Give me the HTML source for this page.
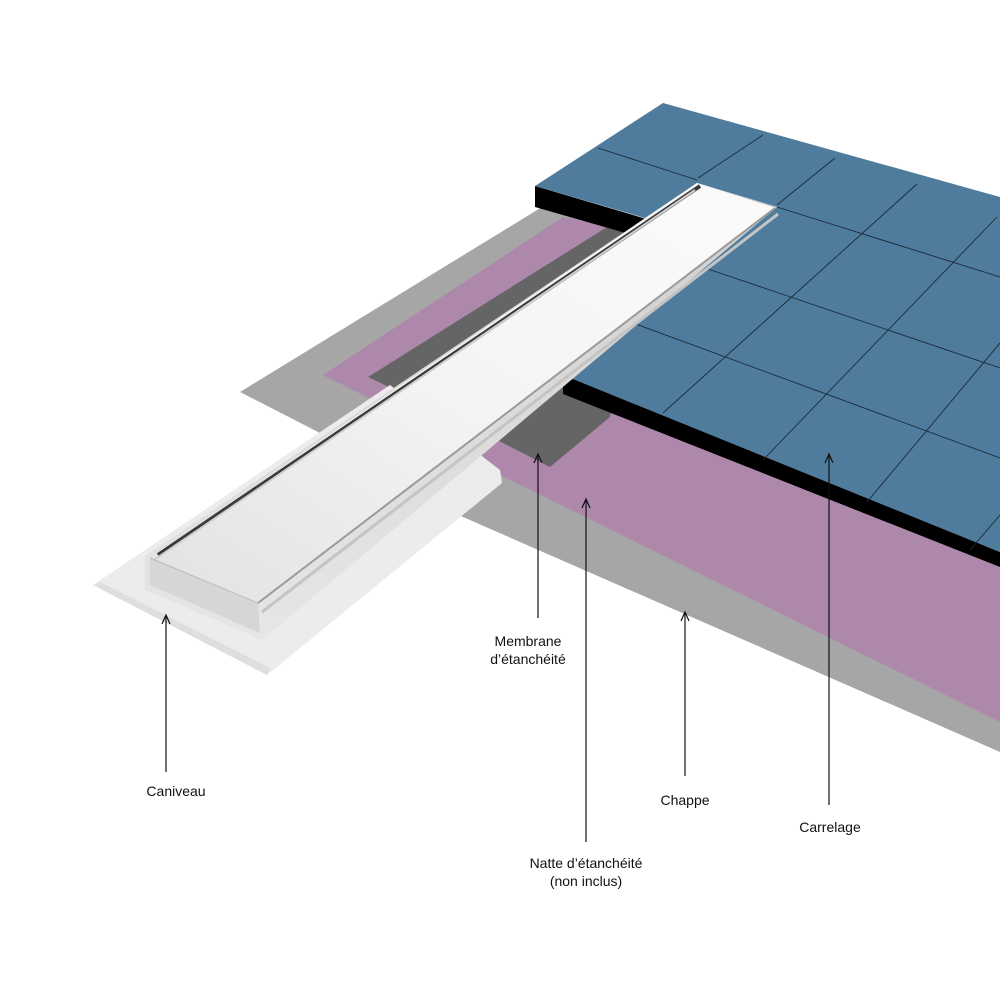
<!DOCTYPE html>
<html><head><meta charset="utf-8"><style>
html,body{margin:0;padding:0;background:#fff;}
svg{display:block;}
text{font-family:"Liberation Sans",Arial,sans-serif;font-size:14px;fill:#111;text-anchor:middle;}
</style></head><body>
<svg width="1000" height="1000" viewBox="0 0 1000 1000" xmlns="http://www.w3.org/2000/svg">
<defs>
<linearGradient id="cov" x1="0" y1="1" x2="1" y2="0">
<stop offset="0" stop-color="#e2e2e2"/><stop offset="0.5" stop-color="#f4f4f4"/><stop offset="1" stop-color="#fbfbfb"/>
</linearGradient>
<linearGradient id="body" x1="0" y1="0" x2="0" y2="1">
<stop offset="0" stop-color="#cfcfcf"/><stop offset="1" stop-color="#e6e6e6"/>
</linearGradient>
</defs>
<!-- chape gray -->
<polygon points="240,392 542,207 650,230 1000,560 1000,752 463,517 318,432" fill="#a6a6a6"/>
<!-- pink natte -->
<polygon points="323,375 563,217 650,235 1000,566 1000,722 470,460 377,402" fill="#ad88ab"/>
<!-- membrane -->
<polygon points="368,377 607,227 650,235 610,417 550,467 503,443 393,389" fill="#666566"/>
<!-- tile black edges -->
<polygon points="535,186 650,220 650,240 535,207" fill="#000"/>
<polygon points="563,375 1000,552 1000,567 563,394" fill="#000"/>
<!-- tile top -->
<polygon points="535,186 663,103 1000,197 1000,552 563,375 777,207 697,183 645,218" fill="#4f7c9c"/>
<g stroke="#1a2a3a" stroke-width="0.9" fill="none">
<line x1="598" y1="148" x2="697" y2="180"/>
<line x1="777" y1="207" x2="1000" y2="277"/>
<line x1="705" y1="268" x2="1000" y2="368"/>
<line x1="633" y1="323" x2="1000" y2="458"/>
<line x1="763" y1="135" x2="698" y2="178"/>
<line x1="835" y1="158" x2="777" y2="205"/>
<line x1="917" y1="184" x2="663" y2="413"/>
<line x1="997" y1="217" x2="763" y2="460"/>
<line x1="1000" y1="343" x2="867" y2="502"/>
<line x1="1000" y1="515" x2="970" y2="550"/>
</g>
<!-- drain flange -->
<polygon points="93,585 390,385 500,470 502,483 267,675" fill="#ececec"/>
<polygon points="93,585 267,675 270,668 100,582" fill="#dedede"/>
<!-- drain body -->
<polygon points="145,556 697,183 777,207 262,640 145,590" fill="url(#body)"/>
<!-- cover top -->
<polygon points="152,556 697,183 775,208 258,603" fill="url(#cov)"/>
<line x1="158" y1="555" x2="700" y2="186" stroke="#3a3a3a" stroke-width="4"/>
<line x1="154" y1="560" x2="695" y2="190" stroke="#d0d0d0" stroke-width="2"/>
<line x1="258" y1="603" x2="775" y2="208" stroke="#9a9a9a" stroke-width="2"/>
<line x1="262" y1="612" x2="778" y2="214" stroke="#c4c4c4" stroke-width="3"/>
<!-- cover front face -->
<polygon points="150,558 258,603 260,633 150,585" fill="#d6d6d6"/>
<line x1="150" y1="558" x2="258" y2="603" stroke="#bbb" stroke-width="1"/>
<!-- labels -->
<g stroke="#111" stroke-width="1.2" fill="none">
<line x1="166" y1="616" x2="166" y2="772"/>
<path d="M162,624 L166,615 L170,624"/>
<line x1="538" y1="455" x2="538" y2="618"/>
<path d="M534,463 L538,454 L542,463"/>
<line x1="586" y1="500" x2="586" y2="842"/>
<path d="M582,508 L586,499 L590,508"/>
<line x1="685" y1="613" x2="685" y2="776"/>
<path d="M681,621 L685,612 L689,621"/>
<line x1="829" y1="455" x2="829" y2="805"/>
<path d="M825,463 L829,454 L833,463"/>
</g>
<text x="176" y="796">Caniveau</text>
<text x="528" y="646">Membrane</text>
<text x="528" y="664">d’étanchéité</text>
<text x="586" y="868">Natte d’étanchéité</text>
<text x="586" y="886">(non inclus)</text>
<text x="685" y="805">Chappe</text>
<text x="830" y="832">Carrelage</text>
</svg>
</body></html>
